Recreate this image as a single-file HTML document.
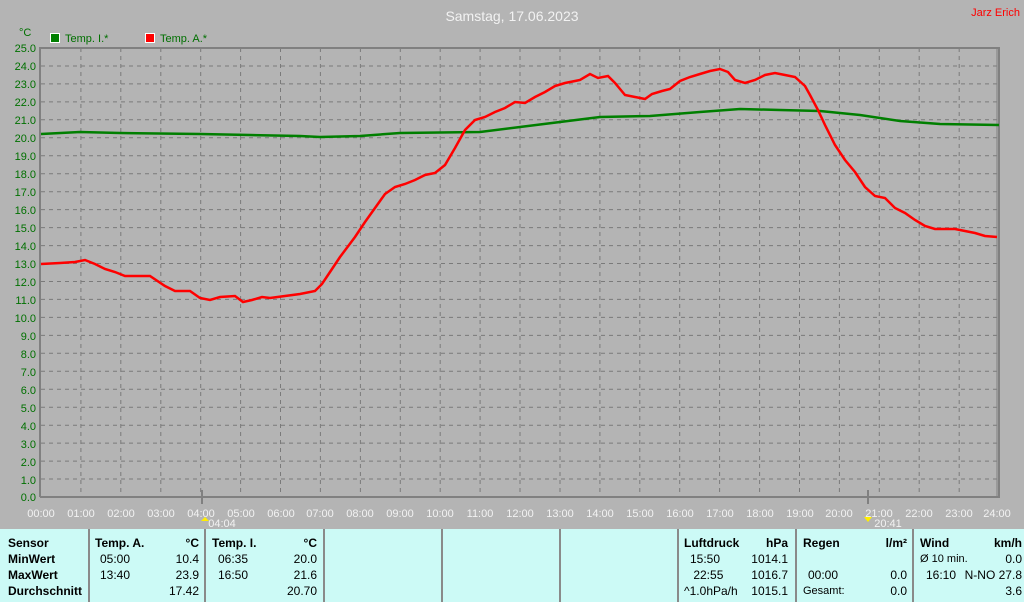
<!DOCTYPE html>
<html><head><meta charset="utf-8"><style>
body{margin:0;width:1024px;height:602px;overflow:hidden;background:#b4b4b4;font-family:"Liberation Sans",sans-serif}
svg{position:absolute;left:0;top:0}
.tbl{position:absolute;left:0;top:529px;width:1024px;height:73px;background:#ccfaf6;font-size:12px}
.c{position:absolute;top:0;height:73px;border-left:2px solid #8a8a8a}
.t{position:absolute;white-space:nowrap;line-height:16px}
b{font-weight:bold}
</style></head><body>
<svg width="1024" height="530" xmlns="http://www.w3.org/2000/svg" font-family="Liberation Sans, sans-serif">
<text x="512" y="21" fill="#f2f2f2" font-size="14" text-anchor="middle">Samstag, 17.06.2023</text>
<text x="1020" y="16" fill="#ff0000" font-size="11" text-anchor="end">Jarz Erich</text>
<text x="19" y="36" fill="#007000" font-size="11">°C</text>
<rect x="50.5" y="33.5" width="9" height="9" fill="#007f00" stroke="#fff"/>
<text x="65" y="42" fill="#007000" font-size="11">Temp. I.*</text>
<rect x="145.5" y="33.5" width="9" height="9" fill="#ff0000" stroke="#fff"/>
<text x="160" y="42" fill="#007000" font-size="11">Temp. A.*</text>
<g stroke="#7a7a7a" stroke-dasharray="4,4" stroke-width="1">
<path d="M41 479H999M41 461.1H999M41 443.1H999M41 425.2H999M41 407.2H999M41 389.2H999M41 371.3H999M41 353.3H999M41 335.4H999M41 317.4H999M41 299.4H999M41 281.5H999M41 263.5H999M41 245.6H999M41 227.6H999M41 209.6H999M41 191.7H999M41 173.7H999M41 155.8H999M41 137.8H999M41 119.8H999M41 101.9H999M41 83.9H999M41 66H999"/>
<path d="M80.9 48V497M120.8 48V497M160.8 48V497M200.7 48V497M240.6 48V497M280.5 48V497M320.4 48V497M360.4 48V497M400.3 48V497M440.2 48V497M480.1 48V497M520 48V497M560 48V497M599.9 48V497M639.8 48V497M679.7 48V497M719.6 48V497M759.6 48V497M799.5 48V497M839.4 48V497M879.3 48V497M919.2 48V497M959.2 48V497"/>
</g>
<path d="M40 497V48H999V497H40" fill="none" stroke="#808080" stroke-width="2"/>
<path d="M997 48V497" stroke="#808080" stroke-width="1"/>
<path d="M202 490V504M868 490V504" stroke="#808080" stroke-width="2"/>
<g fill="#007000" font-size="11" text-anchor="end">
<text x="36" y="52">25.0</text><text x="36" y="70">24.0</text><text x="36" y="88">23.0</text><text x="36" y="106">22.0</text><text x="36" y="124">21.0</text><text x="36" y="142">20.0</text><text x="36" y="160">19.0</text><text x="36" y="178">18.0</text><text x="36" y="196">17.0</text><text x="36" y="214">16.0</text><text x="36" y="232">15.0</text><text x="36" y="250">14.0</text><text x="36" y="268">13.0</text><text x="36" y="286">12.0</text><text x="36" y="304">11.0</text><text x="36" y="322">10.0</text><text x="36" y="340">9.0</text><text x="36" y="358">8.0</text><text x="36" y="376">7.0</text><text x="36" y="394">6.0</text><text x="36" y="412">5.0</text><text x="36" y="430">4.0</text><text x="36" y="448">3.0</text><text x="36" y="466">2.0</text><text x="36" y="484">1.0</text><text x="36" y="501">0.0</text>
</g>
<g fill="#f2f2f2" font-size="11" text-anchor="middle">
<text x="41" y="517">00:00</text><text x="81" y="517">01:00</text><text x="121" y="517">02:00</text><text x="161" y="517">03:00</text><text x="201" y="517">04:00</text><text x="241" y="517">05:00</text><text x="281" y="517">06:00</text><text x="320" y="517">07:00</text><text x="360" y="517">08:00</text><text x="400" y="517">09:00</text><text x="440" y="517">10:00</text><text x="480" y="517">11:00</text><text x="520" y="517">12:00</text><text x="560" y="517">13:00</text><text x="600" y="517">14:00</text><text x="640" y="517">15:00</text><text x="680" y="517">16:00</text><text x="720" y="517">17:00</text><text x="760" y="517">18:00</text><text x="800" y="517">19:00</text><text x="839" y="517">20:00</text><text x="879" y="517">21:00</text><text x="919" y="517">22:00</text><text x="959" y="517">23:00</text><text x="997" y="517">24:00</text>
<text x="222" y="527">04:04</text><text x="888" y="527">20:41</text>
</g>
<path d="M201 521l4 -4 4 4z" fill="#ffee00"/><path d="M864 517l4 5 4-5z" fill="#ffee00"/>
<polyline fill="none" stroke="#007f00" stroke-width="2.5" points="41,134 80,132 120,133 200,134 250,135 300,136 320,137 360,136 400,133 480,132 520,127 560,122 600,117 650,116 700,112 740,109 780,110 820,111 860,115 900,121 940,124 999,125"/>
<polyline fill="none" stroke="#ff0000" stroke-width="2.5" points="41,264 60,263 75,262 85,260 95,264 105,269 115,272 125,276 150,276 165,286 175,291 190,291 200,298 210,300 220,297 235,296 243,302 252,300 262,297 270,298 285,296 300,294 315,291 322,284 330,272 340,257 355,237 365,222 375,208 385,194 395,187 405,184 415,180 425,175 435,173 445,165 455,148 465,130 475,120 485,117 495,112 505,108 515,102 525,103 535,97 545,92 555,86 565,83 575,81 580,80 590,74 598,78 608,76 615,83 625,95 635,97 645,99 652,94 662,91 670,89 680,81 690,77 700,74 710,71 720,69 728,72 735,80 745,83 755,80 765,75 775,73 785,75 795,77 805,86 810,95 818,110 825,125 835,145 845,160 855,172 865,187 875,196 885,198 895,208 905,213 915,220 925,226 935,229 955,229 965,231 975,233 985,236 997,237"/>
</svg>
<div class="tbl">
<div class="c" style="left:88px"></div><div class="c" style="left:204px"></div><div class="c" style="left:323px"></div><div class="c" style="left:441px"></div><div class="c" style="left:559px"></div><div class="c" style="left:677px"></div><div class="c" style="left:795px"></div><div class="c" style="left:912px"></div>
<div class="t" style="left:8px;top:6px"><b>Sensor</b><br><b>MinWert</b><br><b>MaxWert</b><br><b>Durchschnitt</b></div>
<div class="t" style="left:95px;top:6px"><b>Temp. A.</b></div>
<div class="t" style="left:100px;top:22px">05:00<br>13:40</div>
<div class="t" style="left:140px;top:6px;width:59px;text-align:right"><b>°C</b><br>10.4<br>23.9<br>17.42</div>
<div class="t" style="left:212px;top:6px"><b>Temp. I.</b></div>
<div class="t" style="left:218px;top:22px">06:35<br>16:50</div>
<div class="t" style="left:258px;top:6px;width:59px;text-align:right"><b>°C</b><br>20.0<br>21.6<br>20.70</div>
<div class="t" style="left:684px;top:6px"><b>Luftdruck</b></div>
<div class="t" style="left:690px;top:22px">15:50<br>&nbsp;22:55</div>
<div class="t" style="left:684px;top:54px">^1.0hPa/h</div>
<div class="t" style="left:730px;top:6px;width:58px;text-align:right"><b>hPa</b><br>1014.1<br>1016.7<br>1015.1</div>
<div class="t" style="left:803px;top:6px"><b>Regen</b></div>
<div class="t" style="left:808px;top:38px">00:00</div>
<div class="t" style="left:803px;top:54px;font-size:11px">Gesamt:</div>
<div class="t" style="left:850px;top:6px;width:57px;text-align:right"><b>l/m²</b><br><br>0.0<br>0.0</div>
<div class="t" style="left:920px;top:6px"><b>Wind</b></div>
<div class="t" style="left:920px;top:22px;font-size:11px">Ø 10 min.</div>
<div class="t" style="left:926px;top:38px">16:10</div>
<div class="t" style="left:940px;top:6px;width:82px;text-align:right"><b>km/h</b><br>0.0<br>N-NO 27.8<br>3.6</div>
</div>
</body></html>
